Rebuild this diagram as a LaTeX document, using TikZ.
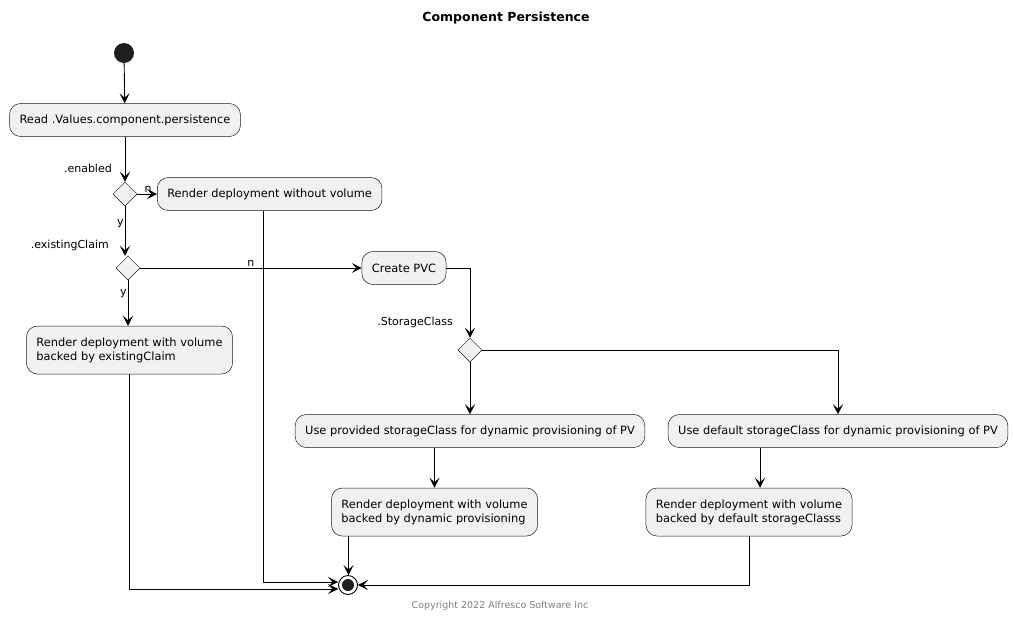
\documentclass[tikz,border=0pt]{standalone}
\usepackage{fontspec}
\setmainfont{DejaVu Sans}
\usetikzlibrary{arrows.meta,positioning,shapes.geometric}
\definecolor{actfill}{HTML}{F1F1F1}
\definecolor{actline}{HTML}{181818}

\tikzset{
  act/.style={draw=actline, fill=actfill, line width=0.5pt, rounded corners=11pt,
    inner xsep=10pt, minimum height=33pt, align=left,
    font=\fontsize{11.4}{14}\selectfont},
  act2/.style={act, minimum height=48pt},
  choice/.style={diamond, draw=actline, fill=actfill, line width=0.5pt,
    minimum size=24pt, inner sep=0pt},
  lbl/.style={font=\fontsize{11}{12}\selectfont, inner sep=1pt},
  flow/.style={->, line width=0.9pt}
}

\begin{document}
\begin{tikzpicture}[x=1pt, y=-1pt, >={Stealth[length=10pt,width=10pt,inset=4.5pt]}]
  \useasboundingbox (0,0) rectangle (1013,619);
  \node[font=\bfseries\fontsize{12.5}{14}\selectfont] (TT) at (506,18) {Component Persistence};
  \node[circle, fill=black!88, minimum size=20pt, inner sep=0pt] (ST) at (124,53) {};
  \node[act] (RD) at (125,120) {Read .Values.component.persistence};
  \node[choice] (EN) at (125,194) {};
  \node[lbl, anchor=south east] at (113,174) {.enabled};
  \node[act, anchor=west] (NV) at (157,194) {Render deployment without volume};
  \node[choice] (EC) at (128,268) {};
  \node[lbl, anchor=south east] at (110,252) {.existingClaim};
  \node[act2] (RX) at (129.5,350) {Render deployment with volume\\backed by existingClaim};
  \node[act] (PVC) at (404,268) {Create PVC};
  \node[choice] (SC) at (470,350) {};
  \node[lbl, anchor=south east] at (454,329) {.StorageClass};
  \node[act] (UP) at (470,431) {Use provided storageClass for dynamic provisioning of PV};
  \node[act] (UD) at (838,431) {Use default storageClass for dynamic provisioning of PV};
  \node[act2] (RP) at (434.5,512) {Render deployment with volume\\backed by dynamic provisioning};
  \node[act2] (RF) at (749,512) {Render deployment with volume\\backed by default storageClasss};
  \node[circle, draw, line width=0.9pt, fill=white, minimum size=19pt, inner sep=0pt] (EE) at (348,585) {};
  \node[circle, fill=black!88, minimum size=12pt, inner sep=0pt] at (EE) {};
  \node[font=\fontsize{9.5}{11}\selectfont, text=black!50] (CR) at (500,606) {Copyright 2022 Alfresco Software Inc};

  \draw[flow] (ST) -- (RD);
  \draw[flow] (RD) -- (EN);
  \draw[flow] (EN) -- node[lbl, above, pos=0.55] {n} (NV);
  \draw[flow] (EN.south) -- node[lbl, left, pos=0.35] {y} (EN.south |- EC.north);
  \draw[flow] (EC) -- node[lbl, above] {n} (PVC);
  \draw[flow] (EC.south) -- node[lbl, left, pos=0.3] {y} (EC.south |- RX.north);
  \draw[flow] (PVC.east) -| (SC.north);
  \draw[flow] (SC) -- (UP);
  \draw[flow] (SC.east) -| (UD.north);
  \draw[flow] (UP.south -| RP.north) -- (RP.north);
  \draw[flow] ([xshift=11pt]RF.north |- UD.south) -- ([xshift=11pt]RF.north);
  \draw[flow] ([xshift=-86pt]RP.south) -- ([xshift=-86pt]RP.south |- EE.north);
  \draw[flow] (RF.south) |- (EE.east);
  \draw[flow] ([xshift=-6.5pt]NV.south) |- ([yshift=3pt]EE.west);
  \draw[flow] (RX.south) |- ([yshift=-4pt]EE.west);
\end{tikzpicture}
\end{document}
